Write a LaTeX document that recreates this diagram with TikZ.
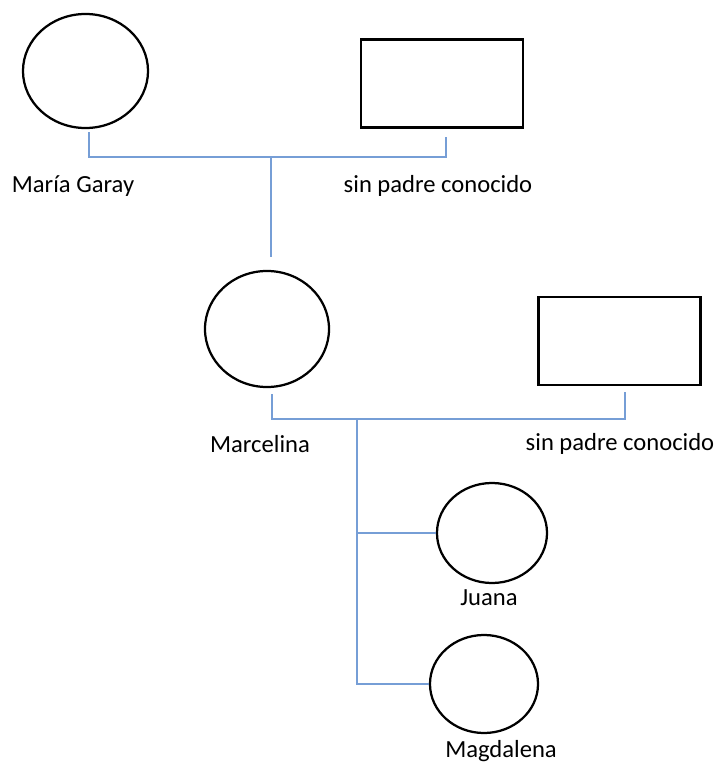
\documentclass[tikz,border=0pt]{standalone}
\usepackage{fontspec}
\setmainfont{Carlito}
\usepackage{tikz}
\usetikzlibrary{shapes.geometric,calc}
\definecolor{azul}{RGB}{118,158,214}
\tikzstyle{mujer}=[ellipse,draw,line width=1.6pt,inner sep=0pt]
\tikzstyle{hombre}=[rectangle,draw,line width=1.6pt,inner sep=0pt,minimum width=4.05cm,minimum height=2.2cm]
\tikzstyle{lazo}=[draw=azul,line width=1.1pt]
\tikzstyle{nombre}=[font=\fontsize{17.5}{21}\selectfont]

\begin{document}
\begin{tikzpicture}[x=0.025cm,y=-0.025cm]

  \useasboundingbox (0,0) rectangle (718,763);

  \node[mujer,minimum width=3.125cm,minimum height=2.85cm] (m1) at (85.5,71) {};
  \node[hombre] (p1) at (442,83.5) {};
  \node[mujer,minimum width=3.1cm,minimum height=2.9cm] (m2) at (267,329) {};
  \node[hombre] (p2) at (619.5,341) {};
  \node[mujer,minimum width=2.75cm,minimum height=2.5cm] (h1) at (492,533) {};
  \node[mujer,minimum width=2.7cm,minimum height=2.45cm] (h2) at (484,684) {};

  \node[nombre] (n1) at (73,186) {María Garay};
  \node[nombre] (n2) at (438,186) {sin padre conocido};
  \node[nombre] (n3) at (260,444) {Marcelina};
  \node[nombre] (n4) at (620,444) {sin padre conocido};
  \node[nombre] (n5) at (489,598) {Juana};
  \node[nombre] (n6) at (501,751) {Magdalena};

  \coordinate (u1) at (271,157);
  \coordinate (u2) at (357,419);

  \draw[lazo] ($(m1.south)+(3.5,3)$) |- (u1) -| ($(p1.south)+(4,8)$);
  \draw[lazo] (u1) -- ($(u1 |- m2.north)+(0,-13)$);

  \draw[lazo] ($(m2.south)+(5,6)$) |- (u2) -| ($(p2.south)+(5.5,6)$);
  \draw[lazo] (u2) |- (h1.west);
  \draw[lazo] (u2) |- (h2.west);

\end{tikzpicture}
\end{document}
